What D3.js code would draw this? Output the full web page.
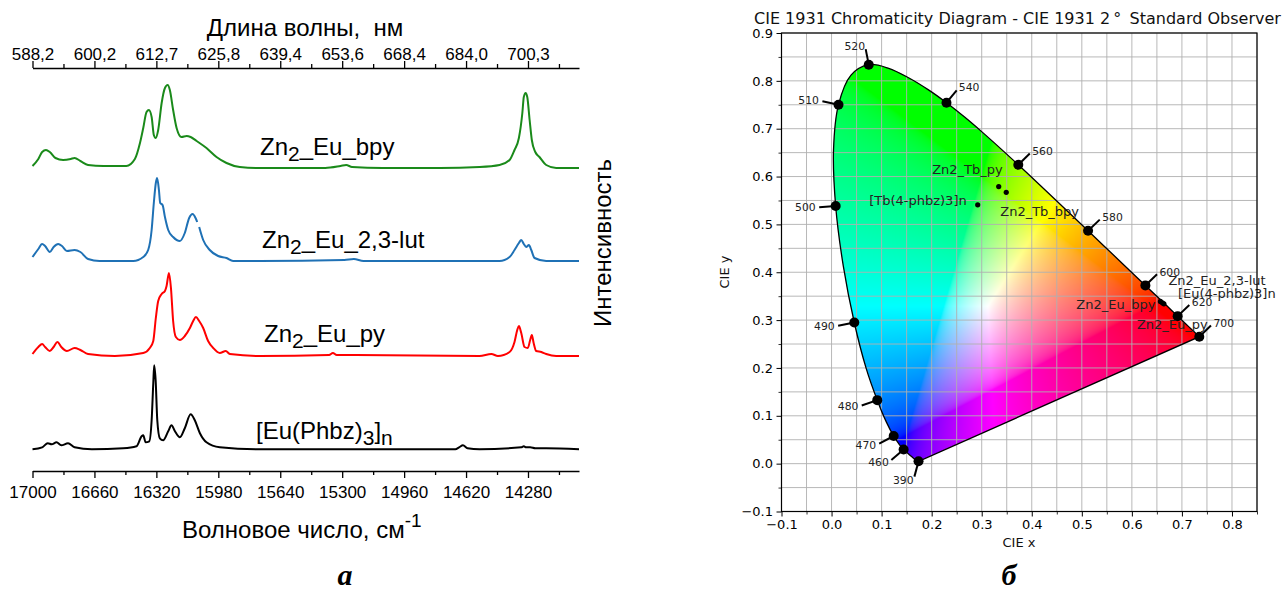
<!DOCTYPE html>
<html lang="ru">
<head>
<meta charset="utf-8">
<script src="https://cdn.jsdelivr.net/npm/d3@7/dist/d3.min.js"></script>
<style>
html,body{margin:0;padding:0;background:#fff;}
svg{display:block;}
</style>
</head>
<body>
<svg id="chart" width="1284" height="590"></svg>
<script>
// ================= Panel (a): luminescence spectra =================
const wnMajorTicks = [17000,16660,16320,15980,15640,15300,14960,14620,14280];
const wnMinorTicks = [16830,16490,16150,15810,15470,15130,14790,14450,14110];
const wnTickLabels = ["17000","16660","16320","15980","15640","15300","14960","14620","14280"];
const nmTickLabels = ["588,2","600,2","612,7","625,8","639,4","653,6","668,4","684,0","700,3"];

const bpyWn  = [17000,16968,16947,16926,16905,16874,16832,16790,16769,16737,16695,16611,16485,16438,16410,16392,16374,16361,16346,16334,16324,16310,16291,16273,16258,16246,16228,16209,16182,16154,16132,16099,16045,15990,15935,15862,15752,15393,15309,15278,15246,15078,14763,14546,14436,14381,14354,14330,14311,14303,14293,14284,14271,14259,14240,14217,14180,14125,14000];
const bpyInt = [0.02,0.09,0.16,0.18,0.16,0.10,0.08,0.09,0.10,0.07,0.03,0.02,0.02,0.09,0.25,0.40,0.56,0.58,0.51,0.33,0.30,0.38,0.65,0.80,0.83,0.78,0.58,0.40,0.31,0.32,0.31,0.27,0.20,0.11,0.05,0.01,0.00,0.00,0.02,0.03,0.01,0.00,0.00,0.01,0.03,0.08,0.18,0.30,0.55,0.71,0.75,0.71,0.48,0.28,0.16,0.11,0.03,0.00,0.00];

const lutWn  = [17000,16968,16947,16931,16905,16884,16859,16838,16811,16769,16737,16695,16632,16447,16392,16365,16346,16334,16323,16316,16306,16299,16286,16273,16255,16228,16191,16164,16140,16121,16105,16096,16090,16085,16063,16027,15981,15935,15899,15752,15288,15236,15183,14546,14436,14381,14354,14330,14317,14303,14290,14275,14262,14244,14180,14000];
const lutInt = [0.04,0.12,0.17,0.15,0.09,0.14,0.17,0.15,0.10,0.11,0.09,0.02,0.00,0.00,0.04,0.11,0.31,0.58,0.78,0.83,0.71,0.58,0.56,0.44,0.31,0.24,0.20,0.28,0.43,0.47,0.43,0.39,null,0.34,0.21,0.11,0.05,0.03,0.00,0.00,0.01,0.02,0.00,0.00,0.00,0.04,0.11,0.18,0.21,0.17,0.14,0.16,0.11,0.03,0.00,0.00];

const pyWn  = [17000,16968,16947,16931,16905,16884,16863,16842,16811,16769,16737,16695,16548,16392,16356,16337,16323,16310,16291,16273,16264,16251,16240,16228,16213,16191,16164,16136,16118,16103,16085,16063,16036,16008,15972,15939,15917,15752,15372,15351,15330,15225,14546,14481,14445,14381,14354,14339,14330,14317,14299,14281,14268,14259,14249,14235,14207,14180,14125,14000];
const pyInt = [0.02,0.09,0.12,0.09,0.05,0.09,0.14,0.09,0.05,0.08,0.06,0.02,0.00,0.03,0.08,0.15,0.38,0.55,0.62,0.65,0.70,0.83,0.68,0.35,0.19,0.16,0.20,0.28,0.35,0.39,0.35,0.28,0.15,0.08,0.03,0.05,0.02,0.00,0.01,0.03,0.01,0.01,0.00,0.02,0.00,0.04,0.14,0.26,0.30,0.23,0.09,0.08,0.16,0.21,0.13,0.05,0.04,0.02,0.00,0.00];

const phbzWn  = [17000,16947,16916,16895,16868,16842,16805,16769,16674,16502,16429,16401,16392,16379,16359,16346,16337,16332,16324,16315,16301,16283,16255,16237,16218,16191,16164,16132,16109,16081,16045,15972,15752,14679,14658,14637,14612,14546,14317,14303,14290,14268,14240,14180,14000];
const phbzInt = [0.00,0.02,0.06,0.05,0.07,0.04,0.06,0.02,0.00,0.01,0.03,0.13,0.14,0.07,0.08,0.29,0.66,0.84,0.69,0.29,0.11,0.09,0.18,0.24,0.18,0.12,0.21,0.35,0.29,0.16,0.07,0.02,0.00,0.00,0.02,0.04,0.01,0.00,0.02,0.03,0.02,0.02,0.01,0.01,0.00];

const spectraWn = [bpyWn, lutWn, pyWn, phbzWn];
const spectraInt = [bpyInt, lutInt, pyInt, phbzInt];
const spectrumOffsets = [3.03, 2.10, 1.15, 0.217];
const spectrumColors = ["#1a8a1a", "#1f71b5", "#ff0000", "#000000"];
// label text parts: [text, isSubscript]
const spectrumLabels = [
  [["Zn",0],["2",1],["_Eu_bpy",0]],
  [["Zn",0],["2",1],["_Eu_2,3-lut",0]],
  [["Zn",0],["2",1],["_Eu_py",0]],
  [["[Eu(Phbz)",0],["3",1],["]",0],["n",1]]
];
const spectrumLabelPos = [[260,155],[262,248],[264,342],[256,439]];

// ================= Panel (б): CIE 1931 chromaticity =================
const locusWl = [380,385,390,395,400,405,410,415,420,425,430,435,440,445,450,455,460,465,470,475,480,485,490,495,500,505,510,515,520,525,530,535,540,545,550,555,560,565,570,575,580,585,590,595,600,605,610,615,620,625,630,635,640,645,650,655,660,665,670,675,680,685,690,695,700];
const locusX = [0.1741,0.1740,0.1738,0.1736,0.1733,0.1730,0.1726,0.1721,0.1714,0.1703,0.1689,0.1669,0.1644,0.1611,0.1566,0.1510,0.1440,0.1355,0.1241,0.1096,0.0913,0.0687,0.0454,0.0235,0.0082,0.0039,0.0139,0.0389,0.0743,0.1142,0.1547,0.1929,0.2296,0.2658,0.3016,0.3373,0.3731,0.4087,0.4441,0.4788,0.5125,0.5448,0.5752,0.6029,0.6270,0.6482,0.6658,0.6801,0.6915,0.7006,0.7079,0.7140,0.7190,0.7230,0.7260,0.7283,0.7300,0.7311,0.7320,0.7327,0.7334,0.7340,0.7344,0.7346,0.7347];
const locusY = [0.0050,0.0050,0.0049,0.0049,0.0048,0.0048,0.0048,0.0048,0.0051,0.0058,0.0069,0.0086,0.0109,0.0138,0.0177,0.0227,0.0297,0.0399,0.0578,0.0868,0.1327,0.2007,0.2950,0.4127,0.5384,0.6548,0.7502,0.8120,0.8338,0.8262,0.8059,0.7816,0.7543,0.7243,0.6923,0.6589,0.6245,0.5896,0.5547,0.5202,0.4866,0.4544,0.4242,0.3965,0.3725,0.3514,0.3340,0.3197,0.3083,0.2993,0.2920,0.2859,0.2809,0.2770,0.2740,0.2717,0.2700,0.2689,0.2680,0.2673,0.2666,0.2660,0.2656,0.2654,0.2653];
const markedWl = [390,460,470,480,490,500,510,520,540,560,580,600,620,700];

const sampleNames = ["Zn2_Tb_py","Zn2_Tb_bpy","[Tb(4-phbz)3]n","Zn2_Eu_2,3-lut","[Eu(4-phbz)3]n","Zn2_Eu_bpy","Zn2_Eu_py"];
const sampleX = [0.334,0.349,0.292,0.661,0.664,0.657,0.690];
const sampleY = [0.579,0.567,0.541,0.336,0.334,0.339,0.309];
// label placement (pixel offsets from the point, text anchor)
const sampleLabelLayout = [
  {dx:4,dy:-13,a:"end"},{dx:-6,dy:24,a:"start"},{dx:-11,dy:0,a:"end"},
  {dx:6,dy:-18,a:"start"},{dx:14,dy:-6,a:"start"},{dx:-5,dy:8,a:"end"},{dx:-40,dy:13,a:"start"}
];
const cieXTicks = [-0.1,0.0,0.1,0.2,0.3,0.4,0.5,0.6,0.7,0.8];
const cieXTickLabels = ["\u22120.1","0.0","0.1","0.2","0.3","0.4","0.5","0.6","0.7","0.8"];
const cieYTicks = [-0.1,0.0,0.1,0.2,0.3,0.4,0.5,0.6,0.7,0.8,0.9];
const cieYTickLabels = ["\u22120.1","0.0","0.1","0.2","0.3","0.4","0.5","0.6","0.7","0.8","0.9"];

// ================= Drawing =================
const svg = d3.select("#chart");
const FA = "'Liberation Sans', Arial, sans-serif";
const FB = "'DejaVu Sans', sans-serif";
const FS = "'Liberation Serif', 'Times New Roman', serif";

function styleAxis(g, font, size, sw) {
  g.attr("font-family", font).attr("font-size", size);
  g.selectAll("line,path").attr("stroke", "#000").attr("stroke-width", sw);
  g.selectAll("text").attr("fill", "#000");
}

// ---- panel a
const xA = d3.scaleLinear().domain([17000, 14000]).range([32.5, 579]);
const yA = d3.scaleLinear().domain([0, 4.03]).range([471, 68]);
const gA = svg.append("g");

const axBot = gA.append("g").attr("transform", "translate(0,471)")
  .call(d3.axisBottom(xA).tickValues(wnMajorTicks).tickSize(7).tickSizeOuter(0).tickPadding(8)
    .tickFormat((d, i) => wnTickLabels[i]));
styleAxis(axBot, FA, 17, 1.3);
const axBotMin = gA.append("g").attr("transform", "translate(0,471)")
  .call(d3.axisBottom(xA).tickValues(wnMinorTicks).tickSize(4).tickFormat(""));
axBotMin.select(".domain").remove();
styleAxis(axBotMin, FA, 17, 1.3);

const axTop = gA.append("g").attr("transform", "translate(0,68)")
  .call(d3.axisTop(xA).tickValues(wnMajorTicks).tickSize(7).tickSizeOuter(0).tickPadding(1)
    .tickFormat((d, i) => nmTickLabels[i]));
styleAxis(axTop, FA, 17, 1.3);
const axTopMin = gA.append("g").attr("transform", "translate(0,68)")
  .call(d3.axisTop(xA).tickValues(wnMinorTicks).tickSize(4).tickFormat(""));
axTopMin.select(".domain").remove();
styleAxis(axTopMin, FA, 17, 1.3);

spectraWn.forEach((wn, s) => {
  const pts = wn.map((w, i) => [w, spectraInt[s][i]]);
  const line = d3.line()
    .defined(d => d[1] !== null)
    .x(d => xA(d[0]))
    .y(d => yA(d[1] + spectrumOffsets[s]))
    .curve(d3.curveMonotoneX);
  gA.append("path").datum(pts).attr("d", line)
    .attr("fill", "none").attr("stroke", spectrumColors[s])
    .attr("stroke-width", 2).attr("stroke-linejoin", "round");
});

function richText(g, x, y, parts, size, subSize, shift, font) {
  const t = g.append("text").attr("x", x).attr("y", y)
    .attr("font-family", font).attr("font-size", size).attr("fill", "#000");
  let cur = 0;
  parts.forEach(([txt, sub]) => {
    const target = sub ? shift : 0;
    t.append("tspan").attr("dy", target - cur).attr("font-size", sub ? subSize : size).text(txt);
    cur = target;
  });
  return t;
}
spectrumLabels.forEach((parts, i) => {
  richText(gA, spectrumLabelPos[i][0], spectrumLabelPos[i][1], parts, 24, 21, 6, FA);
});

gA.append("text").attr("x", 305).attr("y", 36).attr("text-anchor", "middle")
  .attr("font-family", FA).attr("font-size", 24).text("Длина волны,\u00a0\u00a0нм");

const bt = gA.append("text").attr("x", 182).attr("y", 538)
  .attr("font-family", FA).attr("font-size", 24);
bt.append("tspan").text("Волновое число, см");
bt.append("tspan").attr("dy", -11).attr("font-size", 19).text("-1");

gA.append("text").attr("transform", "translate(611,243) rotate(-90)")
  .attr("text-anchor", "middle").attr("font-family", FA).attr("font-size", 24).text("Интенсивность");

gA.append("text").attr("x", 345).attr("y", 585).attr("text-anchor", "middle")
  .attr("font-family", FS).attr("font-size", 30).attr("font-weight", "bold").attr("font-style", "italic").text("a");

// ---- panel б
const xC = d3.scaleLinear().domain([-0.1, 0.85]).range([781.5, 1257]);
const yC = d3.scaleLinear().domain([-0.1, 0.9]).range([511.5, 33]);
const gB = svg.append("g");

// colour field (computed per pixel from chromaticity)
(function () {
  const S = 2;
  const x0 = xC.range()[0], x1 = xC.range()[1], y0 = yC.range()[1], y1 = yC.range()[0];
  const cw = Math.round((x1 - x0) * S), ch = Math.round((y1 - y0) * S);
  const cv = document.createElement("canvas"); cv.width = cw; cv.height = ch;
  const ctx = cv.getContext("2d");
  const img = ctx.createImageData(cw, ch);
  const enc = c => c <= 0.0031308 ? 12.92 * c : 1.055 * Math.pow(c, 1 / 2.4) - 0.055;
  for (let j = 0; j < ch; j++) {
    const cy = yC.invert(y0 + (j + 0.5) / S);
    for (let i = 0; i < cw; i++) {
      const k = (j * cw + i) * 4;
      if (cy <= 0.002) { img.data[k + 3] = 0; continue; }
      const cx = xC.invert(x0 + (i + 0.5) / S);
      const X = cx / cy, Y = 1, Z = (1 - cx - cy) / cy;
      let r = 3.2404542 * X - 1.5371385 * Y - 0.4985314 * Z;
      let g = -0.9692660 * X + 1.8760108 * Y + 0.0415560 * Z;
      let b = 0.0556434 * X - 0.2040259 * Y + 1.0572252 * Z;
      const m = Math.max(r, g, b);
      r = Math.min(1, Math.max(0, r / m)); g = Math.min(1, Math.max(0, g / m)); b = Math.min(1, Math.max(0, b / m));
      img.data[k] = Math.round(enc(r) * 255);
      img.data[k + 1] = Math.round(enc(g) * 255);
      img.data[k + 2] = Math.round(enc(b) * 255);
      img.data[k + 3] = 255;
    }
  }
  ctx.putImageData(img, 0, 0);
  const locusPts = locusWl.map((w, i) => [xC(locusX[i]), yC(locusY[i])]);
  const locusPath = d3.line().curve(d3.curveCatmullRom.alpha(0.5))(locusPts) + "Z";
  svg.append("defs").append("clipPath").attr("id", "locusClip")
    .append("path").attr("d", locusPath);
  gB.append("image").attr("x", x0).attr("y", y0).attr("width", x1 - x0).attr("height", y1 - y0)
    .attr("preserveAspectRatio", "none")
    .attr("href", cv.toDataURL()).attr("clip-path", "url(#locusClip)");

  // grid
  const gx = d3.range(0, 20).map(k => -0.1 + k * 0.05);
  const gy = d3.range(0, 21).map(k => -0.1 + k * 0.05);
  const grid = gB.append("g").attr("stroke", "#b0b0b0").attr("stroke-width", 0.9);
  grid.selectAll("line.gx").data(gx).join("line").attr("x1", d => xC(d)).attr("x2", d => xC(d))
    .attr("y1", y0).attr("y2", y1);
  grid.selectAll("line.gy").data(gy).join("line").attr("y1", d => yC(d)).attr("y2", d => yC(d))
    .attr("x1", x0).attr("x2", x1);

  // locus outline
  gB.append("path").attr("d", locusPath).attr("fill", "none").attr("stroke", "#000").attr("stroke-width", 1.3);
})();

// wavelength markers
const E = [1 / 3, 1 / 3];
const normalOverride = {390: [-0.25, -0.97]};
markedWl.forEach(w => {
  const i = locusWl.indexOf(w);
  const p = Math.max(0, i - 1), n = Math.min(locusWl.length - 1, i + 1);
  const tx = locusX[n] - locusX[p], ty = locusY[n] - locusY[p];
  let nx = -ty, ny = tx;
  const L = Math.hypot(nx, ny); nx /= L; ny /= L;
  if (nx * (locusX[i] - E[0]) + ny * (locusY[i] - E[1]) < 0) { nx = -nx; ny = -ny; }
  if (normalOverride[w]) { [nx, ny] = normalOverride[w]; }
  const px = locusX[i], py = locusY[i];
  gB.append("line").attr("x1", xC(px)).attr("y1", yC(py))
    .attr("x2", xC(px + nx * 0.033)).attr("y2", yC(py + ny * 0.033))
    .attr("stroke", "#000").attr("stroke-width", 2);
  gB.append("circle").attr("cx", xC(px)).attr("cy", yC(py)).attr("r", 5).attr("fill", "#000");
  gB.append("text").attr("x", xC(px + nx * 0.04)).attr("y", yC(py + ny * 0.04)).attr("dy", "0.35em")
    .attr("text-anchor", nx < 0 ? "end" : "start")
    .attr("font-family", FB).attr("font-size", 10.8).attr("fill", "#222").text(w);
});

// samples
sampleNames.forEach((name, i) => {
  const cx = xC(sampleX[i]), cy = yC(sampleY[i]);
  gB.append("circle").attr("cx", cx).attr("cy", cy).attr("r", 2.6).attr("fill", "#000");
  const L = sampleLabelLayout[i];
  gB.append("text").attr("x", cx + L.dx).attr("y", cy + L.dy).attr("text-anchor", L.a)
    .attr("font-family", FB).attr("font-size", 13).attr("fill", "#222").text(name);
});

// axes
const cxAx = gB.append("g").attr("transform", "translate(0,511.5)")
  .call(d3.axisBottom(xC).tickValues(cieXTicks).tickSize(5).tickSizeOuter(0).tickPadding(3.5)
    .tickFormat((d, i) => cieXTickLabels[i]));
styleAxis(cxAx, FB, 13, 1);
cxAx.select(".domain").remove();
const cxMin = gB.append("g").attr("transform", "translate(0,511.5)")
  .call(d3.axisBottom(xC).tickValues(cieXTicks.map(v => v + 0.05)).tickSize(3).tickFormat(""));
cxMin.select(".domain").remove(); styleAxis(cxMin, FB, 13, 0.8);

const cyAx = gB.append("g").attr("transform", "translate(781.5,0)")
  .call(d3.axisLeft(yC).tickValues(cieYTicks).tickSize(5).tickSizeOuter(0).tickPadding(3.5)
    .tickFormat((d, i) => cieYTickLabels[i]));
styleAxis(cyAx, FB, 13, 1);
cyAx.select(".domain").remove();
const cyMin = gB.append("g").attr("transform", "translate(781.5,0)")
  .call(d3.axisLeft(yC).tickValues(cieYTicks.slice(0, -1).map(v => v + 0.05)).tickSize(3).tickFormat(""));
cyMin.select(".domain").remove(); styleAxis(cyMin, FB, 13, 0.8);

gB.append("rect").attr("x", 781.5).attr("y", 33).attr("width", 1257 - 781.5).attr("height", 511.5 - 33)
  .attr("fill", "none").attr("stroke", "#000").attr("stroke-width", 1.2);

gB.append("text").attr("x", 754).attr("y", 24).attr("font-family", FB).attr("font-size", 16).attr("fill", "#111")
  .text("CIE 1931 Chromaticity Diagram - CIE 1931 2\u2009\u00b0\u2009 Standard Observer");
gB.append("text").attr("x", 1019).attr("y", 547).attr("text-anchor", "middle")
  .attr("font-family", FB).attr("font-size", 13).attr("fill", "#111").text("CIE x");
gB.append("text").attr("transform", "translate(729,272) rotate(-90)").attr("text-anchor", "middle")
  .attr("font-family", FB).attr("font-size", 13).attr("fill", "#111").text("CIE y");

gB.append("text").attr("x", 1009).attr("y", 585).attr("text-anchor", "middle")
  .attr("font-family", FS).attr("font-size", 30).attr("font-weight", "bold").attr("font-style", "italic").text("б");
</script>
</body>
</html>
